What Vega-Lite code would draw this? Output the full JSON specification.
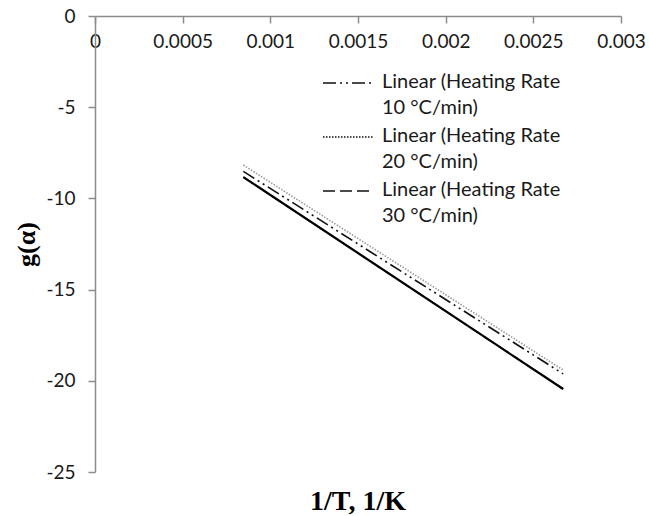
{
  "$schema": "https://vega.github.io/schema/vega-lite/v6.json",
  "width": 526,
  "height": 456,
  "autosize": {"type": "none"},
  "padding": {"left": 95, "top": 16, "right": 28, "bottom": 44},
  "background": "white",
  "title": {
    "text": "1/T,  1/K",
    "orient": "bottom",
    "font": "Liberation Serif",
    "fontSize": 28,
    "fontWeight": "bold",
    "color": "#000000",
    "baseline": "alphabetic",
    "offset": 28
  },
  "data": {
    "values": [
      {"series": "Data", "x": 0.000846, "y": -8.83},
      {"series": "Data", "x": 0.00267, "y": -20.45},
      {"series": "Linear (Heating Rate 10 °C/min)", "x": 0.000846, "y": -8.52},
      {"series": "Linear (Heating Rate 10 °C/min)", "x": 0.00267, "y": -19.62},
      {"series": "Linear (Heating Rate 20 °C/min)", "x": 0.000846, "y": -8.17},
      {"series": "Linear (Heating Rate 20 °C/min)", "x": 0.00267, "y": -19.41},
      {"series": "Linear (Heating Rate 30 °C/min)", "x": 0.000846, "y": -8.83},
      {"series": "Linear (Heating Rate 30 °C/min)", "x": 0.00267, "y": -20.45}
    ]
  },
  "layer": [
    {
      "transform": [{"filter": "datum.series !== 'Data'"}],
      "mark": {"type": "line", "strokeWidth": 1.6},
      "encoding": {
        "x": {"field": "x", "type": "quantitative"},
        "y": {"field": "y", "type": "quantitative"},
        "detail": {"field": "series"},
        "color": {
          "field": "series",
          "type": "nominal",
          "scale": {
            "domain": ["Linear (Heating Rate 10 °C/min)", "Linear (Heating Rate 20 °C/min)", "Linear (Heating Rate 30 °C/min)"],
            "range": ["#111111", "#9a9a9a", "#222222"]
          },
          "legend": null
        },
        "strokeDash": {
          "field": "series",
          "type": "nominal",
          "scale": {
            "domain": ["Linear (Heating Rate 10 °C/min)", "Linear (Heating Rate 20 °C/min)", "Linear (Heating Rate 30 °C/min)"],
            "range": [[13, 4, 2, 4, 2, 4], [1.5, 1.5], [12, 5]]
          },
          "legend": {
            "orient": "none",
            "legendX": 243,
            "legendY": 57,
            "title": null,
            "padding": 0,
            "symbolType": "M-5,0H5",
            "symbolSize": 100,
            "symbolStrokeWidth": 1.6,
            "symbolStrokeColor": "#111111",
            "symbolFillColor": "transparent",
            "labelFont": "Lato",
            "labelFontSize": 20,
            "labelColor": "#1a1a1a",
            "labelOffset": 24,
            "labelLimit": 300,
            "labelBaseline": "top",
            "rowPadding": 7,
            "labelExpr": "[slice(datum.label, 0, 20), slice(datum.label, 21)]",
            "encode": {
              "labels": {"update": {"lineHeight": {"value": 26.5}, "dy": {"value": -11.5}}}
            }
          }
        }
      }
    },
    {
      "transform": [{"filter": "datum.series === 'Data'"}],
      "mark": {"type": "line", "strokeWidth": 2.2, "color": "#000000"},
      "encoding": {
        "x": {"field": "x", "type": "quantitative"},
        "y": {"field": "y", "type": "quantitative"}
      }
    }
  ],
  "resolve": {"scale": {"color": "independent"}},
  "encoding": {
    "x": {
      "field": "x",
      "type": "quantitative",
      "scale": {"domain": [0, 0.003], "nice": false, "zero": false},
      "axis": {
        "orient": "bottom",
        "offset": -456,
        "values": [0, 0.0005, 0.001, 0.0015, 0.002, 0.0025, 0.003],
        "labelExpr": "toString(datum.value)",
        "title": null,
        "grid": false,
        "domainColor": "#8c8c8c",
        "domainWidth": 1.5,
        "tickColor": "#8c8c8c",
        "tickWidth": 1.5,
        "tickSize": 7,
        "labelFont": "Lato",
        "labelFontSize": 19,
        "labelColor": "#1a1a1a",
        "labelPadding": 9,
        "labelFlush": false,
        "labelOverlap": false
      }
    },
    "y": {
      "field": "y",
      "type": "quantitative",
      "scale": {"domain": [-25, 0], "nice": false, "zero": false},
      "axis": {
        "values": [-25, -20, -15, -10, -5, 0],
        "labelExpr": "toString(datum.value)",
        "title": "g(α)",
        "titleFont": "Liberation Serif",
        "titleFontSize": 26,
        "titleFontWeight": "bold",
        "titleColor": "#000000",
        "titlePadding": 6,
        "grid": false,
        "domainColor": "#8c8c8c",
        "domainWidth": 1.5,
        "tickColor": "#8c8c8c",
        "tickWidth": 1.5,
        "tickSize": 7,
        "labelFont": "Lato",
        "labelFontSize": 19,
        "labelColor": "#1a1a1a",
        "labelPadding": 13,
        "labelFlush": false,
        "labelOverlap": false
      }
    }
  },
  "config": {"view": {"stroke": null}}
}
